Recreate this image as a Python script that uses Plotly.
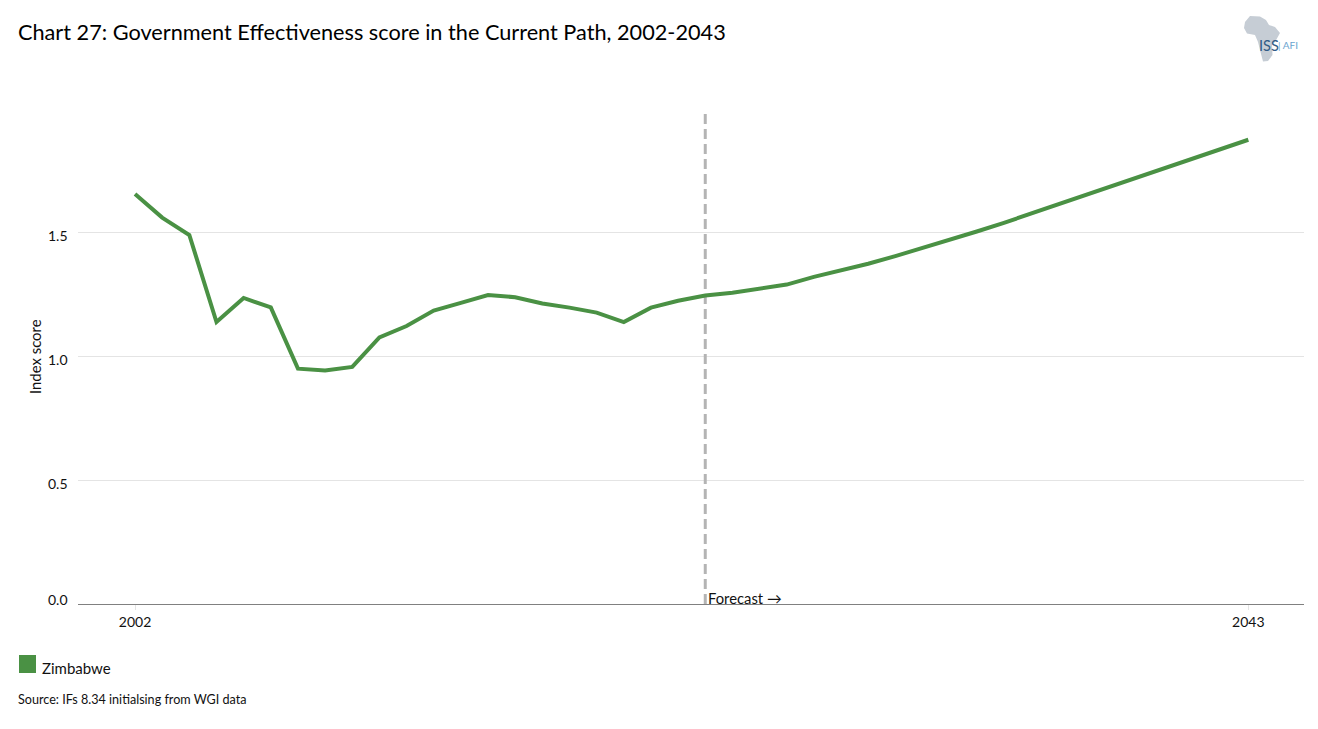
"""Government Effectiveness score chart: Zimbabwe, Current Path, 2002-2043."""

import plotly.graph_objects as go

WIDTH = 1318
HEIGHT = 729
FONT = "Lato"
GREEN = "#4a9144"

years = list(range(2002, 2044))
scores = [
    1.653, 1.558, 1.488, 1.137, 1.234, 1.196, 0.949, 0.942, 0.956, 1.075,
    1.121, 1.183, 1.214, 1.246, 1.237, 1.212, 1.195, 1.175, 1.137, 1.195,
    1.223, 1.244, 1.255, 1.271, 1.288, 1.319, 1.344, 1.372, 1.403, 1.435,
    1.468, 1.502, 1.537, 1.574, 1.610, 1.647, 1.685, 1.722, 1.759, 1.797,
    1.835, 1.872,
]
forecast_year = 2023
forecast_top = 1.98
y_ticks = [0.0, 0.5, 1.0, 1.5]
x_ticks = [2002, 2043]

MARGIN = dict(l=78, r=14, t=108, b=125)


def px(x):
    return (x - MARGIN["l"]) / (WIDTH - MARGIN["l"] - MARGIN["r"])


def py(y):
    return (HEIGHT - MARGIN["b"] - y) / (HEIGHT - MARGIN["t"] - MARGIN["b"])


def page_text(text, x, y, size, color="#111111", angle=0, xanchor="left"):
    return dict(
        text=text, x=px(x), xref="paper", y=py(y), yref="paper", xanchor=xanchor,
        yanchor="middle", textangle=angle, showarrow=False,
        font=dict(size=size, color=color),
    )


# Africa silhouette of the logo, in page pixels
africa = [
    (1250, 16), (1260, 16.5), (1266, 20), (1269, 25), (1275, 27), (1280, 33),
    (1275, 42), (1272, 45), (1272.5, 55), (1268, 61), (1263, 61.5), (1260, 50),
    (1258, 42), (1255, 35), (1247, 33.5), (1244, 28), (1245, 22),
]
africa_path = "M" + " L".join(f"{px(x):.5f},{py(y):.5f}" for x, y in africa) + " Z"

fig = go.Figure()

fig.add_trace(
    go.Scatter(
        x=[forecast_year, forecast_year],
        y=[0, forecast_top],
        mode="lines",
        line=dict(color="#b4b4b4", width=3, dash="10px,5px"),
        showlegend=False,
        hoverinfo="skip",
    )
)
fig.add_trace(
    go.Scatter(
        x=years,
        y=scores,
        mode="lines",
        line=dict(color=GREEN, width=4),
        showlegend=False,
        hovertemplate="%{x}<br>%{y:.2f}<extra>Zimbabwe</extra>",
    )
)

annotations = [
    dict(
        text=f"{tick:.1f}", x=0, xref="paper", y=tick, yref="y",
        xanchor="right", yanchor="middle", xshift=-8,
        yshift=5 if tick == 0 else -3, showarrow=False, font=dict(size=14),
    )
    for tick in y_ticks
]
annotations += [
    page_text(
        "Chart 27: Government Effectiveness score in the Current Path, 2002-2043",
        16, 32, 21.7, color="#000000",
    ),
    page_text("Index score", 35, 357, 14.9, angle=-90, xanchor="center"),
    page_text("Forecast →", 706, 598, 14.8),
    page_text("Zimbabwe", 40, 668, 15),
    page_text("Source: IFs 8.34 initialsing from WGI data", 16, 699, 12.6),
    page_text("ISS", 1257, 45, 14.5, color="#2f5b86"),
    page_text("| AFI", 1276, 45, 10, color="#6aa5cf"),
]

fig.update_layout(
    width=WIDTH,
    height=HEIGHT,
    margin=dict(**MARGIN, pad=0),
    paper_bgcolor="white",
    plot_bgcolor="white",
    font=dict(family=FONT, size=14, color="#111111"),
    showlegend=False,
    xaxis=dict(
        range=[1999.9, 2045.05],
        tickvals=x_ticks,
        ticks="outside",
        ticklen=5,
        tickcolor="#e4e4e4",
        showgrid=False,
        zeroline=False,
        showline=False,
        ticklabelstandoff=0,
    ),
    yaxis=dict(
        range=[0, 2],
        tickvals=y_ticks,
        showticklabels=False,
        gridcolor="#e4e4e4",
        gridwidth=1,
        zeroline=True,
        zerolinecolor="#808080",
        zerolinewidth=1,
        showline=False,
    ),
    annotations=annotations,
    shapes=[
        dict(
            type="path", path=africa_path, xref="paper", yref="paper",
            fillcolor="#c6cdd5", line=dict(width=0), layer="below",
        ),
        # legend key
        dict(
            type="rect", xref="paper", yref="paper", x0=px(19), x1=px(36),
            y0=py(673), y1=py(655), fillcolor=GREEN, line=dict(width=0),
        ),
    ],
)

fig.write_html(
    "out.html",
    config={"displayModeBar": False},
    post_script="document.body.style.margin = '0';",
)
